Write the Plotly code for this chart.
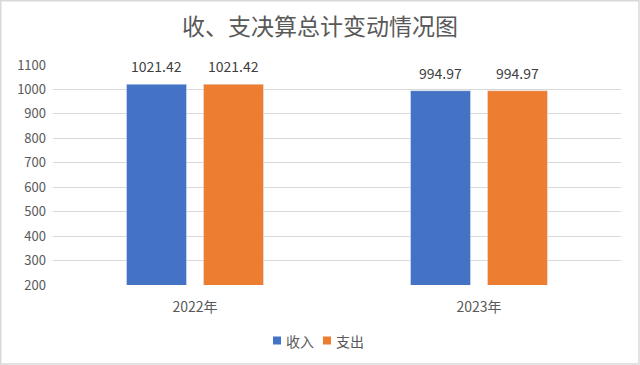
import plotly.graph_objects as go

categories = ["2022年", "2023年"]
income = [1021.42, 994.97]
expense = [1021.42, 994.97]
series_names = ["收入", "支出"]
series_colors = ["#4472C4", "#ED7D31"]
title_text = "收、支决算总计变动情况图"

W, H = 640, 365
L, R, T, B = 53, 19, 65, 80
pw = W - L - R
ph = H - T - B


def px(x):
    return (x - L) / pw


def py(y):
    return (H - B - y) / ph


font_main = "Noto Sans CJK SC, Noto Sans, sans-serif"

fig = go.Figure()
series_vals = [income, expense]
label_shift = [-38.5, 38.5]
for name, vals, col, dx in zip(series_names, series_vals, series_colors, label_shift):
    fig.add_trace(go.Bar(
        x=categories, y=vals, name=name,
        marker_color=col, showlegend=False, cliponaxis=False,
    ))
    for c, v in zip(categories, vals):
        fig.add_annotation(text=f"{v:.2f}", x=c, y=v, xref="x", yref="y",
                           xshift=dx, yshift=18, yanchor="middle", showarrow=False,
                           font=dict(size=14, color="#404040", family=font_main))

# outer chart border
fig.add_shape(type="rect", xref="paper", yref="paper",
              x0=px(0.75), x1=px(W - 1), y0=py(H - 1), y1=py(0.75),
              line=dict(color="#d9d9d9", width=1.5), layer="below")

# manual legend (compact like the reference)
legend_sq_x = [273, 323]
legend_txt_x = [284, 334]
ly = 340.5
for name, col, sx, tx in zip(series_names, series_colors, legend_sq_x, legend_txt_x):
    fig.add_shape(type="rect", xref="paper", yref="paper",
                  x0=px(sx), x1=px(sx + 8), y0=py(ly + 4), y1=py(ly - 4),
                  fillcolor=col, line=dict(width=0))
    fig.add_annotation(text=name, xref="paper", yref="paper", x=px(tx), y=py(ly),
                       xanchor="left", yanchor="middle", showarrow=False,
                       font=dict(size=14, color="#595959", family=font_main))

fig.update_layout(
    width=W, height=H,
    margin=dict(l=L, r=R, t=T, b=B),
    paper_bgcolor="white", plot_bgcolor="white",
    font=dict(family=font_main, color="#595959", size=13),
    title=dict(text=title_text, x=0.5, xanchor="center", y=1 - 27 / H, yanchor="middle",
               font=dict(size=23, color="#595959", family=font_main)),
    barmode="group", bargap=0.458, bargroupgap=0.22,
    showlegend=False,
    xaxis=dict(showgrid=False, showline=False, ticks="", tickfont=dict(size=14, color="#595959"),
               ticklabelstandoff=12),
    yaxis=dict(range=[200, 1100], dtick=100, tick0=200, showgrid=True, gridcolor="#d9d9d9",
               gridwidth=1, zeroline=False, showline=False, ticks="",
               tickfont=dict(size=13, color="#595959"), ticklabelstandoff=6),
)

fig.write_html("out.html", config={"displayModeBar": False},
               post_script="document.body.style.margin='0';document.body.style.overflow='hidden';")
